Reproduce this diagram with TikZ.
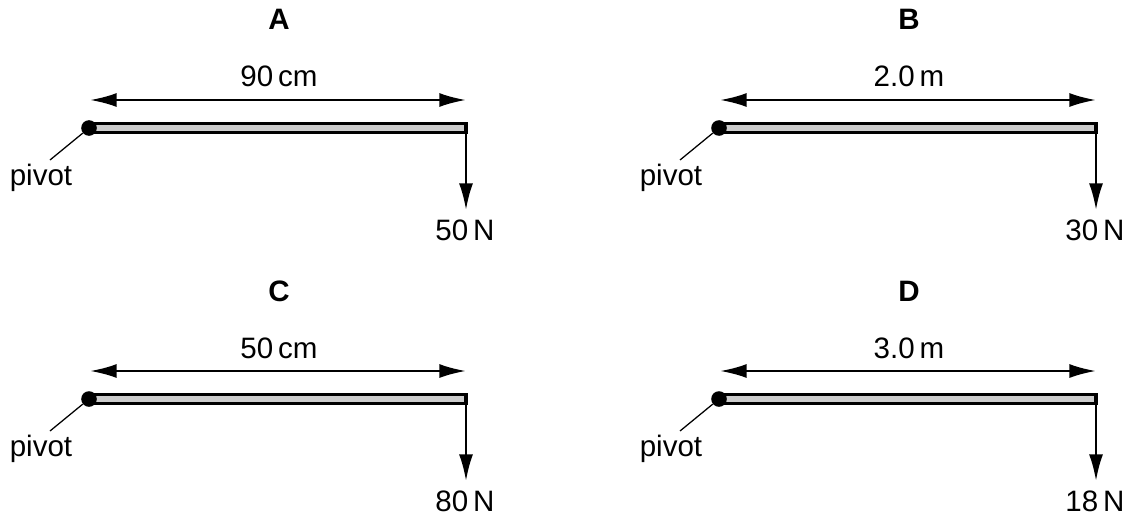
\documentclass[tikz,border=0pt]{standalone}
\usepackage{fontspec}
\setmainfont{Liberation Sans}
\usetikzlibrary{arrows.meta}

\tikzset{
		beam/.style      = {draw, line width=2.2pt, fill=black!20},
		pivotdot/.style  = {circle, fill=black, inner sep=0pt, minimum size=0.39cm},
		dimline/.style   = {line width=1.7pt,
				{Latex[length=19pt,width=10pt]}-{Latex[length=19pt,width=10pt]}},
		forceline/.style = {line width=1.7pt, -{Latex[length=19pt,width=10pt]}},
		pointer/.style   = {line width=0.9pt},
		txt/.style       = {font=\fontsize{21}{25}\selectfont, inner sep=0pt, anchor=base},
		title/.style     = {txt, font=\fontsize{21}{25}\selectfont\bfseries}
	}

\begin{document}
\begin{tikzpicture}
		[x = 0.025cm, y = -0.025cm]
		\useasboundingbox (0,0) rectangle (1128,519);
		\foreach \p/\px/\py/\len/\load in {A/89/128/{90\,cm}/50, B/719/128/{2.0\,m}/30,
				C/89/399/{50\,cm}/80, D/719/399/{3.0\,m}/18} {
			% labels
			\node (name\p) [title] at (\px+190,\py-98) {\p};
			\node (len\p)  [txt]   at (\px+190,\py-41) {\len};
			% length arrow
			\coordinate (dl\p) at (\px+1,\py-28);
			\coordinate (dr\p) at (\px+377,\py-28);
			\draw [dimline] (dl\p) -- (dr\p);
			% beam and load
			\draw [beam] (\px,\py-4.5) rectangle (\px+377,\py+4.5);
			\coordinate (top\p) at (\px+377,\py-4.5);
			\coordinate (tip\p) at (\px+377,\py+82);
			\draw [forceline] (top\p) -- (tip\p);
			\node (load\p) [txt] at (\px+376,\py+112) {\load\,N};
			% pivot
			\node (piv\p) [txt] at (\px-48,\py+57) {pivot};
			\coordinate (tail\p) at (\px-39,\py+32);
			\node (dot\p) [pivotdot] at (\px,\py) {};
			\draw [pointer] (tail\p) -- (dot\p);
		}
	\end{tikzpicture}
\end{document}
